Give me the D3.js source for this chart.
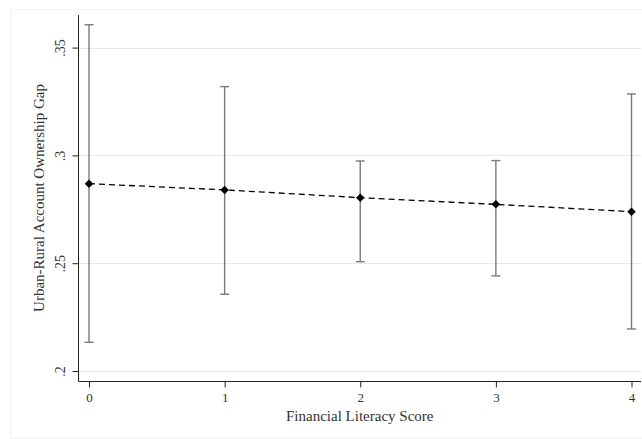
<!DOCTYPE html>
<html>
<head>
<meta charset="utf-8">
<script src="https://cdn.jsdelivr.net/npm/d3@7"></script>
<style>
  html, body { margin: 0; padding: 0; background: #fff; }
  svg text { font-family: "Liberation Serif", "DejaVu Serif", serif; fill: #333; }
</style>
</head>
<body>
<svg id="chart" width="642" height="439"></svg>
<script>
// Predicted urban-rural gap in account ownership by financial literacy score
const scores = [0, 1, 2, 3, 4];
const gap = [0.2869, 0.2840, 0.2804, 0.2773, 0.2739];
const ciLower = [0.2133, 0.2356, 0.2507, 0.2441, 0.2195];
const ciUpper = [0.3606, 0.3319, 0.2974, 0.2976, 0.3285];
const yTicks = [0.2, 0.25, 0.3, 0.35];
const yTickLabels = [".2", ".25", ".3", ".35"];
const xTickLabels = ["0", "1", "2", "3", "4"];

const W = 642, H = 439;
const plot = { left: 78.5, right: 641, top: 15, bottom: 381 };

const svg = d3.select("#chart");

// Faint outer frame of the graph region
svg.append("rect")
  .attr("x", 10.5).attr("y", 9.5)
  .attr("width", W - 10).attr("height", H - 10)
  .attr("fill", "none").attr("stroke", "#f3f3f3").attr("stroke-width", 1);

const x = d3.scaleLinear().domain([0, 4]).range([89, 631.5]);
const y = d3.scaleLinear().domain([0.2, 0.35]).range([371, 47.6]);

// Horizontal gridlines
svg.append("g").selectAll("line").data(yTicks).join("line")
  .attr("x1", plot.left).attr("x2", plot.right)
  .attr("y1", d => Math.round(y(d)) + 0.5).attr("y2", d => Math.round(y(d)) + 0.5)
  .attr("stroke", "#e8e8e8").attr("stroke-width", 1);

// Y axis
const yAxis = d3.axisLeft(y).tickValues(yTicks)
  .tickFormat((d, i) => yTickLabels[i]).tickSize(6).tickPadding(4);
const gy = svg.append("g").attr("transform", `translate(${plot.left},0)`).call(yAxis);
gy.select(".domain").attr("d", `M0,${plot.top}V${plot.bottom + 0.5}`).attr("stroke", "#222");
gy.selectAll(".tick line").attr("stroke", "#222");
gy.selectAll(".tick text")
  .attr("font-size", 14)
  .attr("text-anchor", "middle")
  .attr("x", 0).attr("y", 0)
  .attr("dy", null)
  .attr("transform", "translate(-14,0) rotate(-90)");

// X axis
const xAxis = d3.axisBottom(x).tickValues(scores)
  .tickFormat((d, i) => xTickLabels[i]).tickSize(6).tickPadding(5);
const gx = svg.append("g").attr("transform", `translate(0,${plot.bottom + 0.5})`).call(xAxis);
gx.select(".domain").attr("d", `M${plot.left},0H${plot.right}`).attr("stroke", "#222");
gx.selectAll(".tick line").attr("stroke", "#222");
gx.selectAll(".tick text").attr("font-size", 13);

// Axis titles
svg.append("text")
  .attr("x", (plot.left + plot.right) / 2).attr("y", 421)
  .attr("text-anchor", "middle").attr("font-size", 15)
  .text("Financial Literacy Score");
svg.append("text")
  .attr("transform", `translate(44,${(plot.top + plot.bottom) / 2}) rotate(-90)`)
  .attr("text-anchor", "middle").attr("font-size", 15)
  .text("Urban-Rural Account Ownership Gap");

// Confidence intervals
const ci = svg.append("g").attr("stroke", "#7a7a7a").attr("stroke-width", 1.4).attr("fill", "none");
scores.forEach((s, i) => {
  const cx = x(s);
  ci.append("line").attr("x1", cx).attr("x2", cx).attr("y1", y(ciLower[i])).attr("y2", y(ciUpper[i]));
  ci.append("line").attr("x1", cx - 4.5).attr("x2", cx + 4.5).attr("y1", y(ciLower[i])).attr("y2", y(ciLower[i]));
  ci.append("line").attr("x1", cx - 4.5).attr("x2", cx + 4.5).attr("y1", y(ciUpper[i])).attr("y2", y(ciUpper[i]));
});

// Dashed line through predictions
const line = d3.line().x((d, i) => x(scores[i])).y(d => y(d));
svg.append("path").datum(gap)
  .attr("d", line).attr("fill", "none")
  .attr("stroke", "#000").attr("stroke-width", 1.3)
  .attr("stroke-dasharray", "6,4");

// Diamond markers
const diamond = d3.symbol().type(d3.symbolDiamond2).size(46);
svg.append("g").selectAll("path").data(gap).join("path")
  .attr("d", diamond)
  .attr("transform", (d, i) => `translate(${x(scores[i])},${y(d)})`)
  .attr("fill", "#000");
</script>
</body>
</html>
